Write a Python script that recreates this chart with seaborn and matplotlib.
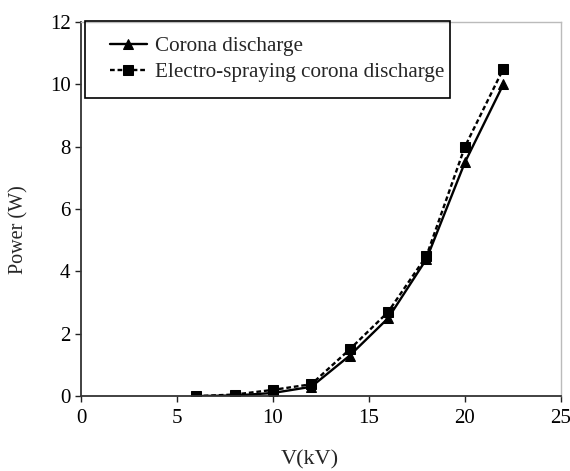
import matplotlib
matplotlib.use("Agg")
import matplotlib.pyplot as plt
from matplotlib.patches import Rectangle
import seaborn as sns
import pandas as pd

voltage_kv = [6, 8, 10, 12, 14, 16, 18, 20, 22]
corona_power = [0.0, 0.02, 0.1, 0.3, 1.3, 2.5, 4.4, 7.5, 10.0]
spray_power = [0.0, 0.05, 0.2, 0.38, 1.5, 2.7, 4.5, 8.0, 10.5]
series_names = ["Corona discharge", "Electro-spraying corona discharge"]
x_ticks = [0, 5, 10, 15, 20, 25]
y_ticks = [0, 2, 4, 6, 8, 10, 12]

df = pd.DataFrame({
    "V": voltage_kv * 2,
    "P": corona_power + spray_power,
    "series": [series_names[0]] * len(voltage_kv) + [series_names[1]] * len(voltage_kv),
})

sns.set_style("white")
plt.rcParams["font.family"] = ["Liberation Serif", "DejaVu Serif"]

fig = plt.figure(figsize=(5.7, 4.71), dpi=100)
ax = fig.add_axes([0.142, 0.159, 0.842, 0.794])

sns.lineplot(
    data=df, x="V", y="P", style="series",
    markers={series_names[0]: "^", series_names[1]: "s"},
    dashes={series_names[0]: "", series_names[1]: (2.0, 1.2)},
    color="black", linewidth=1.7, markersize=7.5, markeredgecolor="black",
    ax=ax, legend=True,
)

ax.set_xlim(0, 25)
ax.set_ylim(0, 12)
ax.set_xticks(x_ticks)
ax.set_yticks(y_ticks)
ax.tick_params(axis="both", direction="out", length=4, width=1, colors="#222222",
               labelsize=15, labelcolor="black", bottom=True, left=True)
ax.tick_params(axis="x", pad=5)
ax.set_xlabel("V(kV)", fontsize=16)
ax.set_ylabel("Power (W)", fontsize=14.5)
ax.xaxis.set_label_coords(0.477, -0.171)
ax.xaxis.label.set_va("center")
ax.yaxis.set_label_coords(-0.129, 0.444)
ax.yaxis.label.set_va("center")

for s in ["left", "bottom"]:
    ax.spines[s].set_color("#333333")
    ax.spines[s].set_linewidth(1.3)
for s in ["top", "right"]:
    ax.spines[s].set_color("#bbbbbb")
    ax.spines[s].set_linewidth(1.0)

leg = ax.legend(loc="center left", bbox_to_anchor=(0.060, 0.900), fontsize=15.2,
                frameon=False, handlelength=1.75, borderpad=0, labelspacing=0.3,
                handletextpad=0.4, borderaxespad=0)
ax.add_patch(Rectangle((0.008, 0.797), 0.762, 0.206, transform=ax.transAxes,
                       fill=False, edgecolor="black", linewidth=1.2, clip_on=False,
                       zorder=5))

fig.savefig("out.png", dpi=100)
